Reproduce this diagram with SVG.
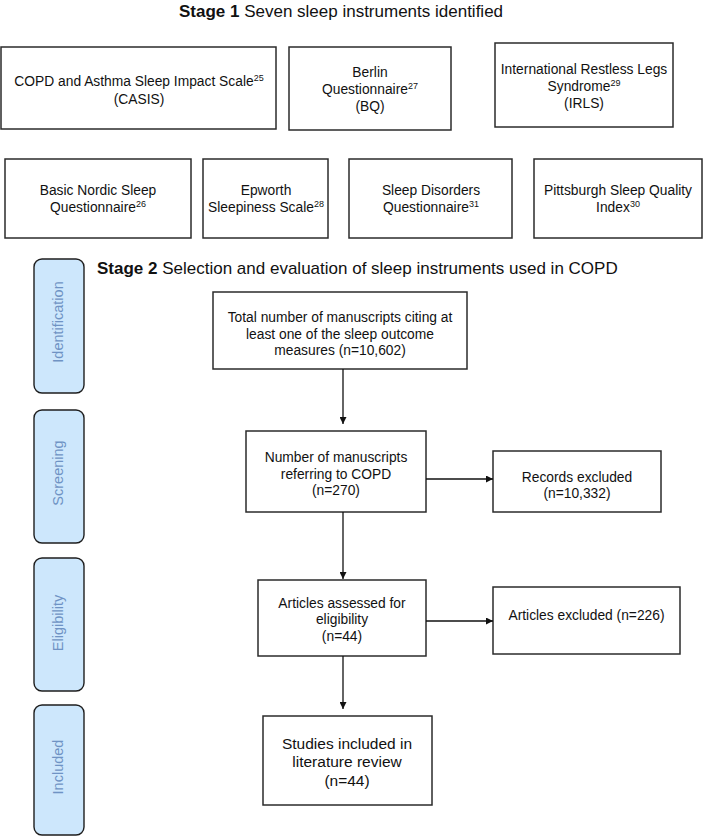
<svg xmlns="http://www.w3.org/2000/svg" width="706" height="839" viewBox="0 0 706 839">
<defs>
<style>
.box{fill:#fff;stroke:#2b2b2b;stroke-width:1.5}
.lab{fill:#cde7fc;stroke:#1e1e1e;stroke-width:1.4}
.t{font-family:"Liberation Sans",Arial,sans-serif;font-size:13.8px;fill:#111;text-anchor:middle}
.tl{font-family:"Liberation Sans",Arial,sans-serif;font-size:15.5px;fill:#111;text-anchor:middle}
.lt{font-family:"Liberation Sans",Arial,sans-serif;font-size:14.5px;fill:#6f93c4;text-anchor:middle}
.ttl{font-family:"Liberation Sans",Arial,sans-serif;font-size:17px;fill:#111}
.sup{font-size:9px}
.c{stroke:#111;stroke-width:1.3;fill:none}
</style>
<marker id="ah" viewBox="0 0 10 10" refX="10" refY="5" markerWidth="7" markerHeight="7" markerUnits="userSpaceOnUse" orient="auto">
<path d="M0,0 L10,5 L0,10 z" fill="#111"/>
</marker>
</defs>
<rect width="706" height="839" fill="#fff"/>

<g id="title1"><text class="ttl" x="341" y="17" text-anchor="middle"><tspan font-weight="bold">Stage 1</tspan> Seven sleep instruments identified</text></g>

<g id="casis"><rect class="box" x="1" y="47" width="275" height="82"/>
<text class="t" x="139" y="86">COPD and Asthma Sleep Impact Scale<tspan class="sup" dy="-5">25</tspan></text>
<text class="t" x="139" y="104">(CASIS)</text></g>

<g id="bq"><rect class="box" x="289" y="47" width="162" height="83"/>
<text class="t" x="370" y="77">Berlin</text>
<text class="t" x="370" y="94">Questionnaire<tspan class="sup" dy="-5">27</tspan></text>
<text class="t" x="370" y="111">(BQ)</text></g>

<g id="irls"><rect class="box" x="495" y="43" width="178" height="84"/>
<text class="t" x="584" y="74">International Restless Legs</text>
<text class="t" x="584" y="91">Syndrome<tspan class="sup" dy="-5">29</tspan></text>
<text class="t" x="584" y="108">(IRLS)</text></g>

<g id="bnsq"><rect class="box" x="5" y="159" width="186" height="79"/>
<text class="t" x="98" y="195">Basic Nordic Sleep</text>
<text class="t" x="98" y="212">Questionnaire<tspan class="sup" dy="-5">26</tspan></text></g>

<g id="ess"><rect class="box" x="203" y="159" width="125" height="79"/>
<text class="t" x="266" y="195">Epworth</text>
<text class="t" x="266" y="212">Sleepiness Scale<tspan class="sup" dy="-5">28</tspan></text></g>

<g id="sdq"><rect class="box" x="349" y="159" width="163" height="79"/>
<text class="t" x="431" y="195">Sleep Disorders</text>
<text class="t" x="431" y="212">Questionnaire<tspan class="sup" dy="-5">31</tspan></text></g>

<g id="psqi"><rect class="box" x="534" y="159" width="168" height="79"/>
<text class="t" x="618" y="195">Pittsburgh Sleep Quality</text>
<text class="t" x="618" y="212">Index<tspan class="sup" dy="-5">30</tspan></text></g>

<g id="title2"><text class="ttl" x="97" y="274"><tspan font-weight="bold">Stage 2</tspan> Selection and evaluation of sleep instruments used in COPD</text></g>

<g id="lab-identification"><rect class="lab" x="34" y="259" width="50" height="134" rx="8"/>
<text class="lt" transform="translate(63,322) rotate(-90)">Identification</text></g>
<g id="lab-screening"><rect class="lab" x="34" y="410" width="50" height="133" rx="8"/>
<text class="lt" transform="translate(63,473) rotate(-90)">Screening</text></g>
<g id="lab-eligibility"><rect class="lab" x="34" y="558" width="50" height="133" rx="8"/>
<text class="lt" transform="translate(63,623) rotate(-90)">Eligibility</text></g>
<g id="lab-included"><rect class="lab" x="34" y="705" width="50" height="130" rx="8"/>
<text class="lt" transform="translate(63,767) rotate(-90)">Included</text></g>

<g id="n-total"><rect class="box" x="213" y="292" width="254" height="77"/>
<text class="t" x="340" y="322">Total number of manuscripts citing at</text>
<text class="t" x="340" y="339">least one of the sleep outcome</text>
<text class="t" x="340" y="355">measures (n=10,602)</text></g>

<g id="n-copd"><rect class="box" x="246" y="431" width="180" height="81"/>
<text class="t" x="336" y="462">Number of manuscripts</text>
<text class="t" x="336" y="479">referring to COPD</text>
<text class="t" x="336" y="495">(n=270)</text></g>

<g id="n-records"><rect class="box" x="493" y="451" width="168" height="61"/>
<text class="t" x="577" y="482">Records excluded</text>
<text class="t" x="577" y="498">(n=10,332)</text></g>

<g id="n-assessed"><rect class="box" x="258" y="580" width="168" height="76"/>
<text class="t" x="342" y="608">Articles assessed for</text>
<text class="t" x="342" y="624">eligibility</text>
<text class="t" x="342" y="641">(n=44)</text></g>

<g id="n-artexcl"><rect class="box" x="493" y="587" width="187" height="67"/>
<text class="t" x="586.5" y="620">Articles excluded (n=226)</text></g>

<g id="n-included"><rect class="box" x="263" y="716" width="169" height="89"/>
<text class="tl" x="347" y="749">Studies included in</text>
<text class="tl" x="347" y="767">literature review</text>
<text class="tl" x="347" y="786">(n=44)</text></g>

<g id="connectors">
<line class="c" x1="343" y1="369" x2="343" y2="424" marker-end="url(#ah)"/>
<line class="c" x1="343" y1="512" x2="343" y2="579" marker-end="url(#ah)"/>
<line class="c" x1="343" y1="656" x2="343" y2="709" marker-end="url(#ah)"/>
<line class="c" x1="426" y1="479" x2="493" y2="479" marker-end="url(#ah)"/>
<line class="c" x1="426" y1="621" x2="493" y2="621" marker-end="url(#ah)"/>
</g>
</svg>
